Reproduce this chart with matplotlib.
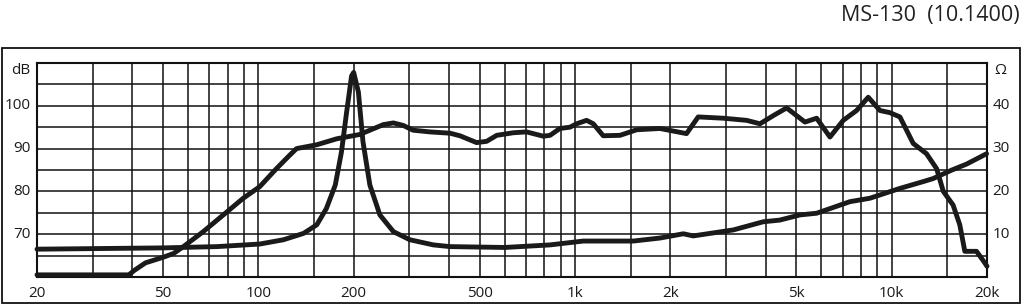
import matplotlib
matplotlib.use("Agg")
import matplotlib.pyplot as plt
from matplotlib.patches import Rectangle
from matplotlib.ticker import FixedLocator, NullLocator

# ---- data ----
spl_freq = [20, 39, 40.5, 44, 50, 54, 58, 67, 77.5, 89.6, 101, 114, 125, 132, 153,
            177, 209, 248, 267, 287, 308, 348, 403, 433, 489, 526, 566, 638, 703,
            794, 834, 896, 964, 1012, 1088, 1142, 1228, 1387, 1566, 1854, 2250,
            2449, 2938, 3484, 3838, 4227, 4659, 5323, 5795, 6384, 7032, 7748,
            8434, 9184, 9866, 10617, 11696, 12884, 13868, 14556, 15632, 16408,
            17022, 18536, 19682, 20000]
spl_db = [60.5, 60.5, 61.5, 63.3, 64.6, 65.5, 67.1, 70.6, 74.5, 78.4, 81.1, 85.3,
          88.3, 90.0, 90.9, 92.3, 93.3, 95.6, 96.0, 95.4, 94.3, 93.9, 93.6, 93.0,
          91.4, 91.7, 93.1, 93.7, 93.9, 92.9, 93.1, 94.7, 95.0, 95.8, 96.6, 95.8,
          93.0, 93.1, 94.4, 94.7, 93.5, 97.4, 97.1, 96.6, 95.8, 97.7, 99.5, 96.2,
          97.1, 92.7, 96.6, 98.9, 102.0, 98.9, 98.4, 97.4, 91.2, 88.8, 85.3, 80.0,
          76.8, 72.2, 66.0, 66.0, 63.3, 62.5]

imp_freq = [20, 50, 74, 101, 120, 139, 153, 164, 175, 183, 190, 197, 200, 207,
            214, 225, 242, 267, 301, 357, 403, 600, 834, 1062, 1528, 1854, 2198,
            2362, 3162, 3928, 4436, 5129, 5795, 7380, 8532, 10617, 12590, 13520,
            15500, 17258, 19940]
imp_ohm = [6.5, 6.8, 7.1, 7.7, 8.7, 10.2, 12.2, 16.0, 21.5, 29.2, 38.5, 47.0,
           47.8, 43.2, 31.6, 21.5, 14.5, 10.6, 8.7, 7.5, 7.1, 6.9, 7.5, 8.4, 8.4,
           9.1, 10.1, 9.6, 11.0, 12.9, 13.3, 14.5, 14.9, 17.6, 18.4, 20.7, 22.3,
           23.0, 25.0, 26.4, 28.8]

x_grid = [20, 30, 40, 50, 60, 70, 80, 90, 100, 150, 200, 300, 400, 500, 600, 700,
          800, 900, 1000, 1500, 2000, 3000, 4000, 5000, 6000, 7000, 8000, 9000,
          10000, 15000, 20000]
x_tick_vals = [20, 50, 100, 200, 500, 1000, 2000, 5000, 10000, 20000]
x_tick_labels = ["20", "50", "100", "200", "500", "1k", "2k", "5k", "10k", "20k"]
db_grid = [60, 65, 70, 75, 80, 85, 90, 95, 100, 105, 110]
db_tick_vals = [70, 80, 90, 100]
ohm_tick_vals = [10, 20, 30, 40]

title = "MS-130  (10.1400)"

# ---- figure ----
W, H = 1024, 306
fig = plt.figure(figsize=(W / 100, H / 100), dpi=100)
fig.patch.set_facecolor("white")

lab_font = ["Open Sans", "DejaVu Sans"]
ink = "#1a1a1a"

ax = fig.add_axes([37 / W, 1 - 277 / H, 950 / W, 214 / H])
ax.set_xscale("log")
ax.set_xlim(20, 20000)
ax.set_ylim(60, 110)

ax.xaxis.set_major_locator(FixedLocator(x_grid))
ax.xaxis.set_minor_locator(NullLocator())
ax.yaxis.set_major_locator(FixedLocator(db_grid))
ax.yaxis.set_minor_locator(NullLocator())
ax.grid(True, which="major", color="#111111", linewidth=1.1)
ax.tick_params(which="both", length=0, labelbottom=False, labelleft=False)
for s in ax.spines.values():
    s.set_linewidth(1.5)
    s.set_color("#111111")

ax.plot(spl_freq, spl_db, color=ink, linewidth=3.5, solid_joinstyle="round",
        solid_capstyle="round", zorder=5, clip_on=False)

ax2 = ax.twinx()
ax2.set_ylim(0, 50)
ax2.set_xlim(20, 20000)
ax2.yaxis.set_major_locator(NullLocator())
ax2.tick_params(which="both", length=0, labelright=False)
for s in ax2.spines.values():
    s.set_visible(False)
ax2.plot(imp_freq, imp_ohm, color=ink, linewidth=3.5, solid_joinstyle="round",
         solid_capstyle="round", zorder=5, clip_on=False)

# tick labels as text through the axes transforms
fs = 11
for v, lab in zip(x_tick_vals, x_tick_labels):
    ax.text(v, -0.075, lab, transform=ax.get_xaxis_transform(), ha="center",
            va="center", fontsize=fs, family=lab_font, color=ink)
for v in db_tick_vals:
    ax.text(-0.007, v, str(v), transform=ax.get_yaxis_transform(), ha="right",
            va="center", fontsize=fs, family=lab_font, color=ink)
for v in ohm_tick_vals:
    ax2.text(1.006, v, str(v), transform=ax2.get_yaxis_transform(), ha="left",
             va="center", fontsize=fs, family=lab_font, color=ink)
ax.text(-0.007, 108.2, "dB", transform=ax.get_yaxis_transform(), ha="right",
        va="center", fontsize=fs, family=lab_font, color=ink)
ax2.text(1.008, 48.2, "Ω", transform=ax2.get_yaxis_transform(), ha="left",
         va="center", fontsize=fs, family=lab_font, color=ink)

# outer frame
fig.add_artist(Rectangle((2 / W, 1 - 303 / H), 1018 / W, 255 / H,
                         transform=fig.transFigure, fill=False,
                         edgecolor="#111111", linewidth=1.3))

fig.text(1020 / W, 1 - 15 / H, title, ha="right", va="center", fontsize=15.5,
         family=["Liberation Sans Narrow", "Open Sans", "DejaVu Sans"],
         color="#222222")

fig.savefig("out.png", dpi=100, facecolor="white")
